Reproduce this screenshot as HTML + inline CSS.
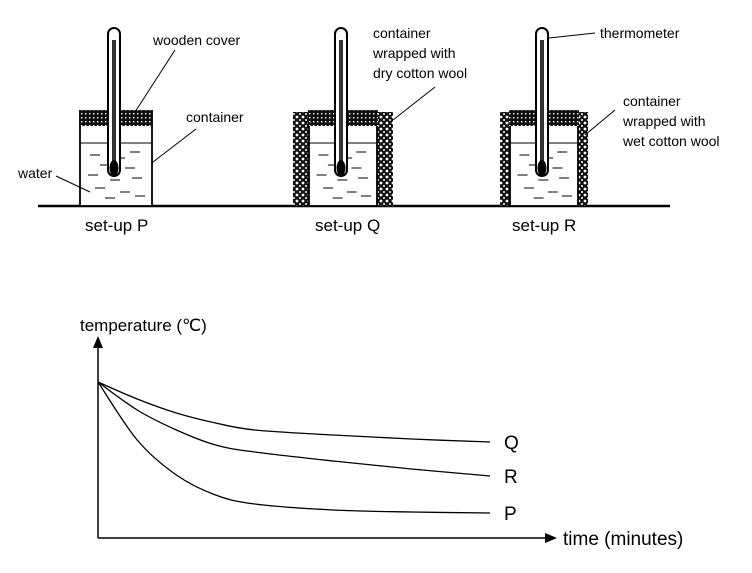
<!DOCTYPE html>
<html><head><meta charset="utf-8"><style>
html,body{margin:0;padding:0;background:#fff;}
svg{display:block;font-family:"Liberation Sans",sans-serif;}
</style></head><body>
<svg width="752" height="573" viewBox="0 0 752 573">
<defs>
<pattern id="dots" width="4" height="4" patternUnits="userSpaceOnUse"><rect width="4" height="4" fill="#111"/><rect x="1" y="1" width="1.4" height="1.4" fill="#fff"/></pattern>
<pattern id="wool" width="6" height="6" patternUnits="userSpaceOnUse"><rect width="6" height="6" fill="#111"/><circle cx="3" cy="3" r="1.4" fill="#fff"/><circle cx="0" cy="0" r="1" fill="#fff"/><circle cx="6" cy="0" r="1" fill="#fff"/><circle cx="0" cy="6" r="1" fill="#fff"/><circle cx="6" cy="6" r="1" fill="#fff"/></pattern>
</defs>
<line x1="38" y1="206" x2="670" y2="206" stroke="#000" stroke-width="2.5"/>
<g id="setups"></g>
<g font-size="14" fill="#000">
<text x="153" y="45">wooden cover</text>
<line x1="175" y1="50" x2="135" y2="112" stroke="#000"/>
<text x="186" y="122">container</text>
<line x1="196" y1="129" x2="153" y2="162" stroke="#000"/>
<text x="18" y="178">water</text>
<line x1="56" y1="176" x2="90" y2="192" stroke="#000"/>
<text x="373" y="38">container</text>
<text x="373" y="58">wrapped with</text>
<text x="373" y="78">dry cotton wool</text>
<line x1="435" y1="87" x2="393" y2="120" stroke="#000"/>
<text x="600" y="38">thermometer</text>
<line x1="549" y1="38" x2="595" y2="33" stroke="#000"/>
<text x="623" y="106">container</text>
<text x="623" y="126">wrapped with</text>
<text x="623" y="146">wet cotton wool</text>
<line x1="615" y1="110" x2="585" y2="135" stroke="#000"/>
</g>
<g font-size="17">
<text x="85" y="231">set-up P</text>
<text x="315" y="231">set-up Q</text>
<text x="512" y="231">set-up R</text>
</g>
<g id="chart">
<line x1="98" y1="538" x2="98" y2="345" stroke="#000" stroke-width="1.5"/>
<polygon points="98,336 93,348 103,348" fill="#000"/>
<line x1="98" y1="538" x2="548" y2="538" stroke="#000" stroke-width="1.5"/>
<polygon points="557,538 545,533 545,543" fill="#000"/>
<text x="80" y="331" font-size="17">temperature (℃)</text>
<text x="563" y="545" font-size="19">time (minutes)</text>
<g id="curves"></g>
</g>
</svg>
<script>
const times=[0,1,2,3,4,6,8,10];
const tempQ=[78,69.5,62.5,57.5,54,51.5,49.5,48];
const tempR=[78,64,54,46.5,43,38.5,34.5,31];
const tempP=[78,49,31.5,21.5,17,14,13,12.5];
const seriesNames=["Q","R","P"];
const NS="http://www.w3.org/2000/svg";
function xs(t){return 98+t*39.2;}
function ys(v){return 538-v*2;}
function mk(tag,attrs,parent){const e=document.createElementNS(NS,tag);for(const k in attrs)e.setAttribute(k,attrs[k]);parent.appendChild(e);return e;}
function smooth(pts){let d="M"+pts[0][0]+","+pts[0][1];for(let i=0;i<pts.length-1;i++){const p0=pts[i-1]||pts[i],p1=pts[i],p2=pts[i+1],p3=pts[i+2]||p2;
const c1=[p1[0]+(p2[0]-p0[0])/6,p1[1]+(p2[1]-p0[1])/6],c2=[p2[0]-(p3[0]-p1[0])/6,p2[1]-(p3[1]-p1[1])/6];
d+=" C"+c1[0]+","+c1[1]+" "+c2[0]+","+c2[1]+" "+p2[0]+","+p2[1];}return d;}
const cg=document.getElementById('curves');
[tempQ,tempR,tempP].forEach((vals,i)=>{
const pts=times.map((t,j)=>[xs(t),ys(vals[j])]);
const p=mk('path',{d:smooth(pts),fill:'none',stroke:'#000','stroke-width':1.3},cg);


const last=pts[pts.length-1];
const t=mk('text',{x:last[0]+14,y:last[1]+7,'font-size':19},cg);t.textContent=seriesNames[i];


});
const sg=document.getElementById('setups');
const setups=[{x:80,w:72,th:114,wool:0,n:'p'},{x:309,w:68,th:341,wool:16,n:'q'},{x:510,w:68,th:542,wool:10,n:'r'}];
setups.forEach(s=>{
const g=mk('g',{},sg);


if(s.wool){mk('rect',{x:s.x-s.wool,y:112,width:s.wool,height:94,fill:'url(#wool)'},g);mk('rect',{x:s.x+s.w,y:112,width:s.wool,height:94,fill:'url(#wool)'},g);}
mk('rect',{x:s.x,y:112,width:s.w,height:94,fill:'#fff',stroke:'#000','stroke-width':1.8},g);
mk('rect',{x:s.x-1,y:110,width:s.w+2,height:16,fill:'url(#dots)'},g);
mk('line',{x1:s.x,y1:143,x2:s.x+s.w,y2:143,stroke:'#000'},g);
const dl=[[10,155],[35,158],[50,152],[20,165],[45,168],[8,175],[30,180],[52,178],[15,188],[40,192],[25,198],[55,196]];
dl.forEach(d=>mk('line',{x1:s.x+d[0]*s.w/72,y1:d[1],x2:s.x+d[0]*s.w/72+10,y2:d[1],stroke:'#000'},g));
mk('rect',{x:s.th-6,y:28,width:12,height:148,rx:6,fill:'#fff',stroke:'#000','stroke-width':2},g);
mk('rect',{x:s.th-2,y:40,width:4,height:128,fill:'#333'},g);
mk('ellipse',{cx:s.th,cy:168,rx:4.5,ry:8,fill:'#000'},g);
});
</script>
</body></html>
